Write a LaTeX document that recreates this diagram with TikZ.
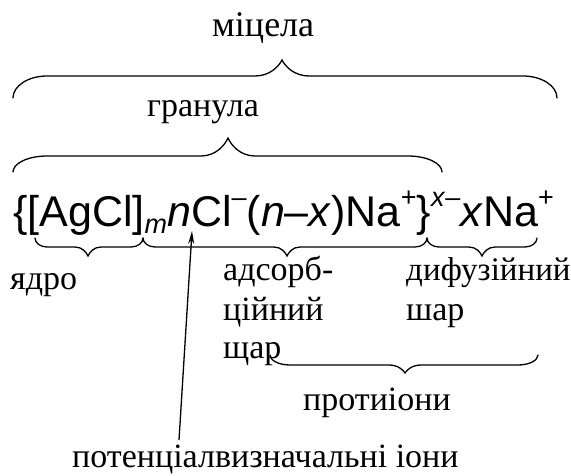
\documentclass[tikz,border=0pt]{standalone}
\usepackage{fontspec}
\setmainfont{Liberation Serif}
\newfontfamily\arialf{Liberation Sans}
\usetikzlibrary{arrows.meta}
\newcommand\subx[1]{\raisebox{-0.16em}{\fontsize{27}{28}\selectfont #1}}
\newcommand\supx[1]{\raisebox{0.48em}{\fontsize{27}{28}\selectfont #1}}
% brace: x1, x2, xm, yEnd, yLine, yCusp, end radius, cusp width
\newcommand\mybrace[8]{%
  \draw[bracestyle] (#1,#4) .. controls (#1,{#4+0.552*(#5-#4)}) and ({#1+0.448*#7},#5) .. ({#1+#7},#5)
    -- ({#3-#8},#5) .. controls ({#3-0.45*#8},#5) and ({#3-0.12*#8},{#6+0.4*(#5-#6)}) .. (#3,#6)
    .. controls ({#3+0.12*#8},{#6+0.4*(#5-#6)}) and ({#3+0.45*#8},#5) .. ({#3+#8},#5)
    -- ({#2-#7},#5) .. controls ({#2-0.448*#7},#5) and (#2,{#4+0.552*(#5-#4)}) .. (#2,#4);}
\begin{document}
\begin{tikzpicture}[x=1pt,y=-1pt,
  bracestyle/.style={line width=1.3pt,line cap=round},
  lbl/.style={font=\fontsize{34}{40}\selectfont,inner sep=0pt,anchor=base west},
  formula/.style={font=\arialf\fontsize{43}{48}\selectfont,inner sep=0pt,anchor=base west}]
\useasboundingbox (0,0) rectangle (571,476);
% labels
\node[lbl,font=\fontsize{36}{40}\selectfont] (micela) at (212,37) {міцела};
\node[lbl] (granula) at (147,117) {гранула};
\node[formula] (form) at (13,227) {\{[AgCl]\subx{\textit{m}}\textit{n}Cl\supx{–}(\textit{n}–\textit{x})Na\supx{+}\}\supx{\textit{x}–}\textit{x}Na\supx{+}};
\node[lbl] (yadro) at (10,290) {ядро};
\node[lbl] (ads1) at (223,280) {адсорб-};
\node[lbl] (ads2) at (223,320) {ційний};
\node[lbl] (ads3) at (223,358) {щар};
\node[lbl,font=\fontsize{33}{40}\selectfont] (dif1) at (406,280) {дифузійний};
\node[lbl] (dif2) at (406,320) {шар};
\node[lbl] (prot) at (303,410) {протиіони};
\node[lbl] (pot) at (72,467) {потенціалвизначальні іони};
% braces
\mybrace{13}{557}{282}{98}{76}{60}{34}{27}
\mybrace{13}{442}{228}{172}{156}{138}{34}{27}
\mybrace{35}{143}{88}{238}{247}{256}{12}{13}
\mybrace{143}{427}{287}{238}{247}{256}{12}{13}
\mybrace{427}{537}{482}{238}{247}{256}{12}{13}
\mybrace{270}{538}{405}{355}{365}{373}{20}{16}
% arrow
\coordinate (abase) at (179,440);
\coordinate (atip) at (192,231);
\draw[line width=1.3pt,-{Stealth[length=13pt,width=6pt]}] (abase) -- (atip);
\end{tikzpicture}
\end{document}
